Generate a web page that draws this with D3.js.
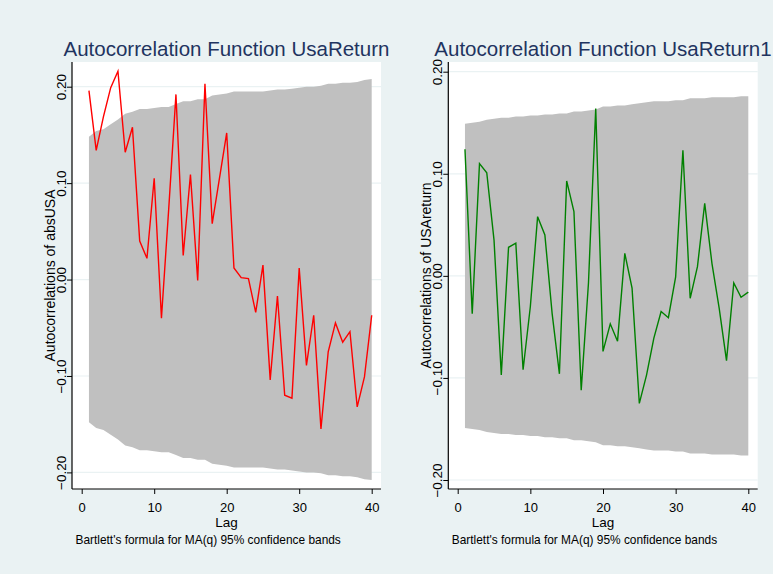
<!DOCTYPE html>
<html>
<head>
<meta charset="utf-8">
<script src="https://cdn.jsdelivr.net/npm/d3@7"></script>
<style>
  body { margin: 0; background: #eaf2f3; }
  text { font-family: "Liberation Sans", Arial, sans-serif; }
</style>
</head>
<body>
<div id="chart"></div>
<script>
// lags 1..40
var lags = d3.range(1, 41);

// left panel: acf of absUSA
var absUsaAcf = [0.196, 0.134, 0.169, 0.199, 0.216, 0.132, 0.158, 0.040, 0.022, 0.105,
                 -0.040, 0.073, 0.192, 0.025, 0.109, -0.001, 0.203, 0.058, 0.105, 0.152,
                 0.012, 0.002, 0.001, -0.034, 0.015, -0.104, -0.017, -0.120, -0.123, 0.012,
                 -0.089, -0.037, -0.155, -0.075, -0.045, -0.065, -0.054, -0.132, -0.101, -0.037];
// upper edge of Bartlett band (lower edge is the mirror)
var absUsaBand = [0.148, 0.154, 0.156, 0.161, 0.166, 0.172, 0.174, 0.177, 0.177, 0.178,
                  0.179, 0.179, 0.182, 0.185, 0.185, 0.187, 0.187, 0.191, 0.192, 0.193,
                  0.195, 0.195, 0.195, 0.195, 0.195, 0.196, 0.197, 0.197, 0.198, 0.199,
                  0.200, 0.200, 0.201, 0.203, 0.203, 0.204, 0.204, 0.205, 0.207, 0.208];

// right panel: acf of USAreturn
var usaReturnAcf = [0.124, -0.037, 0.110, 0.101, 0.035, -0.097, 0.028, 0.032, -0.092, -0.030,
                    0.058, 0.040, -0.037, -0.096, 0.093, 0.063, -0.112, -0.007, 0.164, -0.074,
                    -0.047, -0.064, 0.022, -0.012, -0.125, -0.097, -0.061, -0.035, -0.041, -0.001,
                    0.123, -0.022, 0.009, 0.071, 0.012, -0.032, -0.083, -0.007, -0.021, -0.016];
var usaReturnBand = [0.149, 0.150, 0.151, 0.153, 0.154, 0.155, 0.155, 0.156, 0.156, 0.157,
                     0.157, 0.158, 0.158, 0.159, 0.159, 0.161, 0.161, 0.162, 0.163, 0.166,
                     0.166, 0.167, 0.167, 0.168, 0.169, 0.170, 0.171, 0.171, 0.171, 0.172,
                     0.172, 0.174, 0.174, 0.174, 0.175, 0.175, 0.175, 0.175, 0.176, 0.176];

var yTicks = [-0.2, -0.1, 0, 0.1, 0.2];
var xTicks = [0, 10, 20, 30, 40];

var titles = ["Autocorrelation Function UsaReturn", "Autocorrelation Function UsaReturn1"];
var yTitles = ["Autocorrelations of absUSA", "Autocorrelations of USAreturn"];
var xTitle = "Lag";
var note = "Bartlett's formula for MA(q) 95% confidence bands";

var W = 773, H = 574;

var svg = d3.select("#chart")
  .append("svg")
  .attr("width", W)
  .attr("height", H);

svg.append("rect")
  .attr("width", W).attr("height", H)
  .attr("fill", "#eaf2f3");

// panel geometry (pixels)
var panels = [
  { axisX: 72, right: 381, top: 62, bottom: 489, x0: 81.7, x1: 371.7, yLo: 472.4, yHi: 86.7,
    acf: absUsaAcf, band: absUsaBand, color: "#ff0000", title: titles[0], yTitle: yTitles[0] },
  { axisX: 448.3, right: 757.7, top: 62, bottom: 489, x0: 457.7, x1: 748.3, yLo: 480, yHi: 71.7,
    acf: usaReturnAcf, band: usaReturnBand, color: "#008000", title: titles[1], yTitle: yTitles[1] }
];

panels.forEach(function(p) {
  var x = d3.scaleLinear().domain([0, 40]).range([p.x0, p.x1]);
  var y = d3.scaleLinear().domain([-0.2, 0.2]).range([p.yLo, p.yHi]);
  var g = svg.append("g");

  // white plot region
  g.append("rect")
    .attr("x", p.axisX).attr("y", p.top)
    .attr("width", p.right - p.axisX).attr("height", p.bottom - p.top)
    .attr("fill", "#ffffff");

  // gridlines
  g.selectAll(".grid")
    .data(yTicks)
    .enter().append("line")
    .attr("x1", p.axisX).attr("x2", p.right)
    .attr("y1", function(d) { return y(d); })
    .attr("y2", function(d) { return y(d); })
    .attr("stroke", "#eaf2f3")
    .attr("stroke-width", 1.2);

  // confidence band
  var area = d3.area()
    .x(function(d, i) { return x(lags[i]); })
    .y0(function(d) { return y(-d); })
    .y1(function(d) { return y(d); });
  g.append("path")
    .datum(p.band)
    .attr("d", area)
    .attr("fill", "#c0c0c0");

  // acf line
  var line = d3.line()
    .x(function(d, i) { return x(lags[i]); })
    .y(function(d) { return y(d); });
  g.append("path")
    .datum(p.acf)
    .attr("d", line)
    .attr("fill", "none")
    .attr("stroke", p.color)
    .attr("stroke-width", 1.4)
    .attr("stroke-linejoin", "miter");

  // y axis
  var yAxis = g.append("g")
    .attr("transform", "translate(" + p.axisX + ",0)")
    .call(d3.axisLeft(y).tickValues(yTicks).tickFormat(d3.format(".2f")).tickSize(5).tickSizeOuter(0));
  yAxis.select(".domain").remove();
  yAxis.selectAll("line").attr("stroke", "#000");
  yAxis.selectAll("text")
    .attr("transform", "rotate(-90)")
    .attr("x", 0).attr("y", -6).attr("dy", 0)
    .attr("text-anchor", "middle")
    .attr("font-size", 13.5)
    .attr("fill", "#000");

  // x axis
  var xAxis = g.append("g")
    .attr("transform", "translate(0," + p.bottom + ")")
    .call(d3.axisBottom(x).tickValues(xTicks).tickSize(5).tickSizeOuter(0));
  xAxis.select(".domain").remove();
  xAxis.selectAll("line").attr("stroke", "#000");
  xAxis.selectAll("text")
    .attr("y", 22.5).attr("dy", 0)
    .attr("font-size", 13)
    .attr("fill", "#000");

  // axis lines
  g.append("line")
    .attr("x1", p.axisX).attr("x2", p.axisX)
    .attr("y1", p.top).attr("y2", p.bottom)
    .attr("stroke", "#000").attr("stroke-width", 1.2);
  g.append("line")
    .attr("x1", p.axisX).attr("x2", p.right)
    .attr("y1", p.bottom).attr("y2", p.bottom)
    .attr("stroke", "#000").attr("stroke-width", 1.2);

  var cx = (p.axisX + p.right) / 2;
  var cy = (p.top + p.bottom) / 2;

  // titles
  g.append("text")
    .attr("x", cx).attr("y", 56)
    .attr("text-anchor", "middle")
    .attr("font-size", 20.5)
    .attr("fill", "#1f3460")
    .text(p.title);

  g.append("text")
    .attr("transform", "translate(" + (p.axisX - 17) + "," + cy + ") rotate(-90)")
    .attr("text-anchor", "middle")
    .attr("font-size", 14)
    .attr("fill", "#000")
    .text(p.yTitle);

  g.append("text")
    .attr("x", cx).attr("y", 526.5)
    .attr("text-anchor", "middle")
    .attr("font-size", 13.5)
    .attr("fill", "#000")
    .text(xTitle);

  g.append("text")
    .attr("x", p.axisX + 3.5).attr("y", 544.3)
    .attr("font-size", 11.9)
    .attr("fill", "#000")
    .text(note);
});
</script>
</body>
</html>
